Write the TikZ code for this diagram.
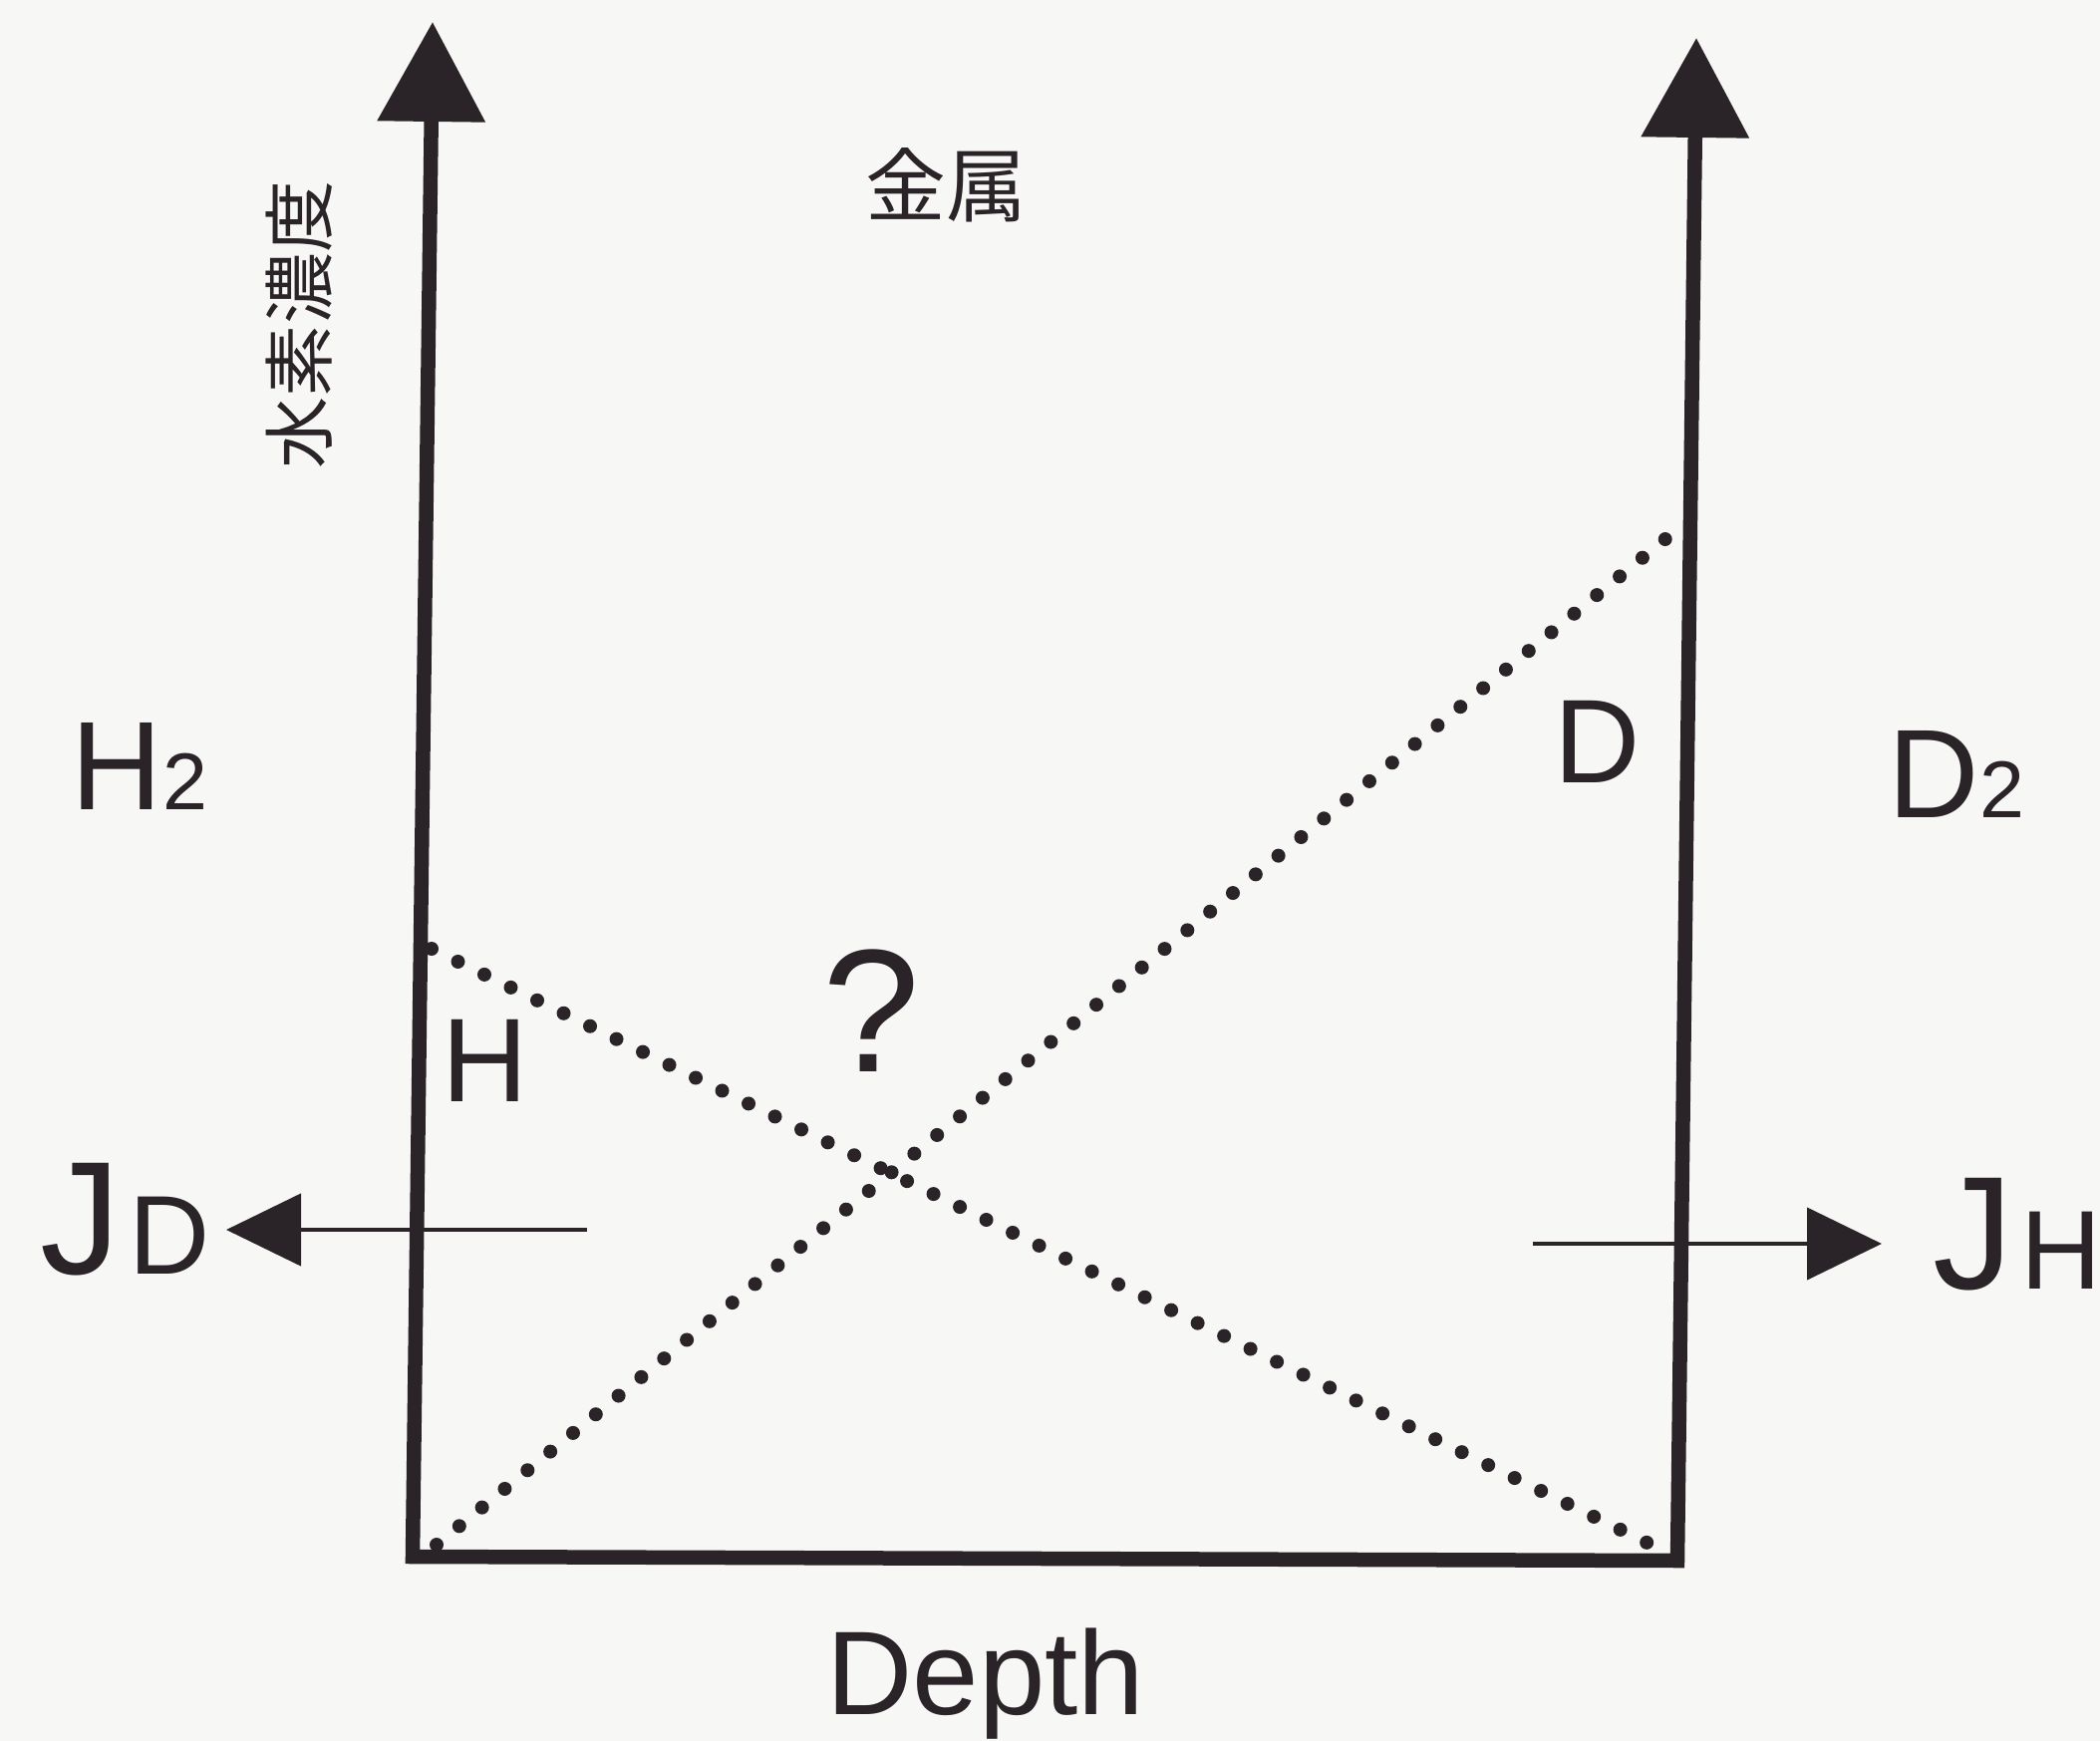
\documentclass[tikz,border=0pt]{standalone}
\usepackage{fontspec}
\setmainfont{Liberation Sans}
\newfontfamily\jpfont{Noto Sans CJK JP}
\usepackage{tikz}
\usetikzlibrary{arrows.meta, positioning, calc}
\definecolor{ink}{HTML}{2A2327}
\definecolor{paper}{HTML}{F7F7F5}
\tikzstyle{frameaxis}=[line width=0.145cm, color=ink, line join=miter,
  {Triangle[length=1.0cm, width=1.05cm]}-{Triangle[length=1.0cm, width=1.05cm]}]
\tikzstyle{flux}=[-{Triangle[length=0.75cm, width=0.72cm]}, line width=1.3pt, color=ink]
\tikzstyle{profile}=[line width=0.14cm, color=ink, line cap=round, dash pattern=on 0pt off 0.295cm]
\tikzstyle{lbl}=[inner sep=0pt, text=ink, anchor=base]

\begin{document}
\begin{tikzpicture}
  \fill[paper] (0,0) rectangle (21.07,-17.47);
  \useasboundingbox (0,0) rectangle (21.07,-17.47);
  % frame of the plot
  \coordinate (ltop)  at (4.34,-0.22);
  \coordinate (lorig) at (4.14,-15.62);
  \coordinate (rorig) at (16.83,-15.66);
  \coordinate (rtop)  at (17.02,-0.38);
  \draw[frameaxis] (ltop) -- (lorig) -- (rorig) -- (rtop);
  % concentration profiles
  \coordinate (hstart) at (4.33,-9.52);
  \coordinate (hend)   at (16.73,-15.58);
  \coordinate (dstart) at (4.38,-15.50);
  \coordinate (dend)   at (16.72,-5.40);
  \draw[profile] (hstart) -- (hend);
  \draw[profile] (dstart) -- (dend);
  % labels
  \node[lbl, anchor=center, font=\jpfont\fontsize{23}{26}\selectfont] (metal) at (9.49,-1.86) {金属};
  \node[lbl, anchor=center, rotate=90, font=\jpfont\fontsize{20.5}{24}\selectfont] (conc) at (3.00,-3.26) {水素濃度};
  \node[lbl, font=\fontsize{36}{40}\selectfont] (htwo) at (1.40,-8.12) {H{\fontsize{23}{26}\selectfont 2}};
  \node[lbl, font=\fontsize{36}{40}\selectfont] (dtwo) at (19.63,-8.20) {D{\fontsize{23}{26}\selectfont 2}};
  \node[lbl, font=\fontsize{34}{38}\selectfont] (dlab) at (16.03,-7.85) {D};
  \node[lbl, font=\fontsize{34}{38}\selectfont] (hlab) at (4.87,-11.05) {H};
  \node[lbl, font=\fontsize{50}{54}\selectfont] (quest) at (8.74,-10.75) {?};
  \node[lbl, font=\fontsize{34}{38}\selectfont] (depth) at (9.89,-17.20) {Depth};
  % fluxes
  \coordinate (jdtail) at (5.89,-12.34);
  \coordinate (jhtail) at (15.38,-12.48);
  \node[lbl, anchor=base east, outer xsep=0.16cm, font=\fontsize{46}{50}\selectfont] (jd) at (2.27,-12.78) {J\kern0.08cm{\fontsize{32}{36}\selectfont D}};
  \node[lbl, anchor=base west, outer xsep=0.51cm, font=\fontsize{46}{50}\selectfont] (jh) at (18.88,-12.93) {J\kern0.08cm{\fontsize{32}{36}\selectfont H}};
  \draw[flux] (jdtail) -- (jdtail -| jd.east);
  \draw[flux] (jhtail) -- (jhtail -| jh.west);
\end{tikzpicture}
\end{document}
